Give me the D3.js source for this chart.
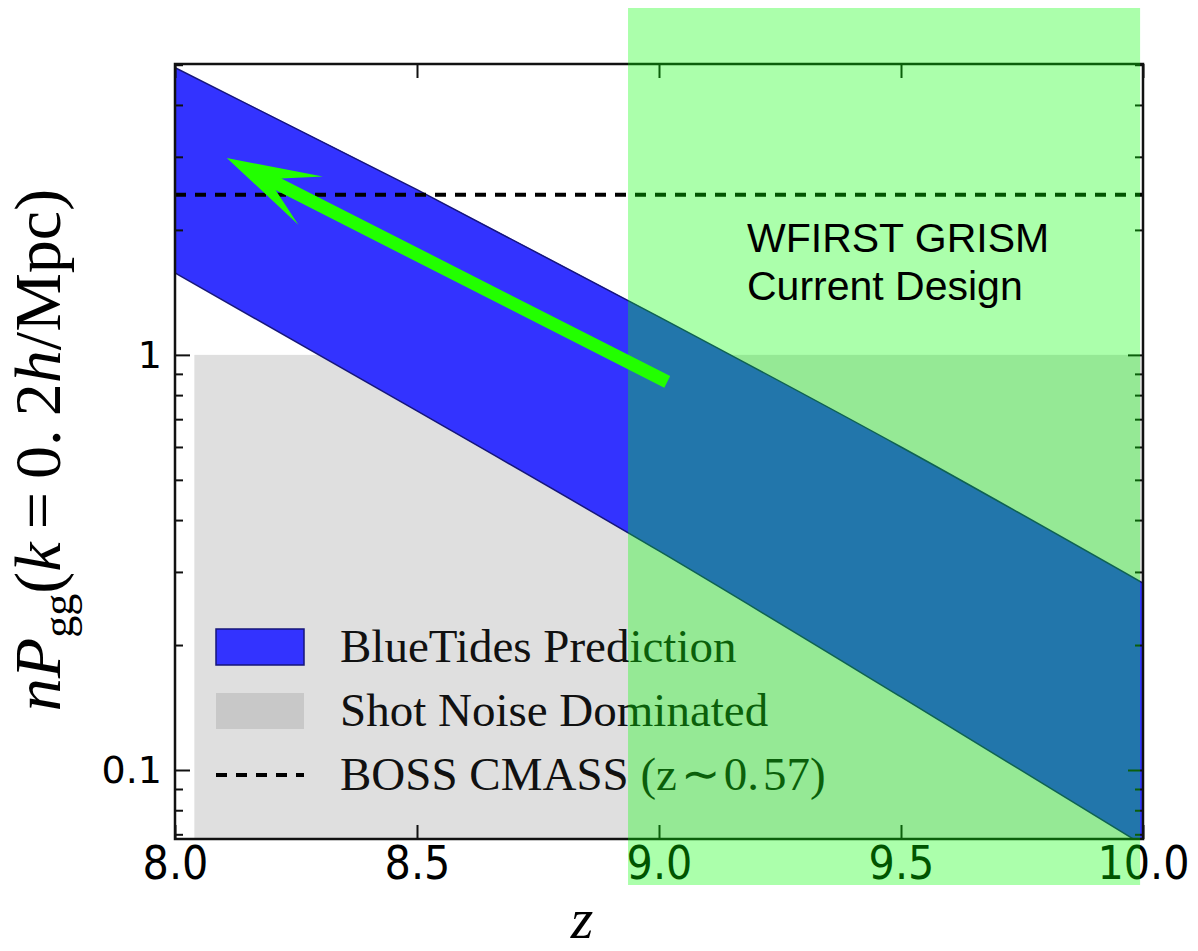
<!DOCTYPE html>
<html>
<head>
<meta charset="utf-8">
<script src="https://cdn.jsdelivr.net/npm/d3@7"></script>
<style>
  body { margin: 0; background: #fff; }
  svg { display: block; }
</style>
</head>
<body>
<svg id="chart" width="1198" height="951"></svg>
<script>
// values
var zTicks = [8.0, 8.5, 9.0, 9.5, 10.0];
var yMajor = [0.1, 1];
var yMinor = [0.07, 0.08, 0.09, 0.2, 0.3, 0.4, 0.5, 0.6, 0.7, 0.8, 0.9, 2, 3, 4, 5];
var bandZ = [8.0, 8.5, 9.0, 9.5, 10.0];
var bandUpper = [4.92, 2.50, 1.235, 0.600, 0.282];
var bandLower = [1.576, 0.733, 0.337, 0.150, 0.066];
var bossLevel = 2.43;
var shotNoiseTop = 1.0;
var shotNoiseZ = [8.04, 10.0];
var grismZ = [8.936, 9.994];
var arrowFrom = [9.017, 0.861];
var arrowTo = [8.107, 2.98];
var legendLabels = ["BlueTides Prediction", "Shot Noise Dominated", "BOSS CMASS (z\u200A\u223C\u200A0.\u200A57)"];

var mLeft = 175, mRight = 1143, mTop = 64, mBottom = 839;
var svg = d3.select("#chart");

var x = d3.scaleLinear().domain([8.0, 10.0]).range([mLeft, mRight]);
var y = d3.scaleLog().domain([0.0682, 5.02]).range([mBottom, mTop]);

svg.append("defs").append("clipPath").attr("id", "plotclip")
   .append("rect").attr("x", mLeft).attr("y", mTop)
   .attr("width", mRight - mLeft).attr("height", mBottom - mTop);

var plot = svg.append("g").attr("clip-path", "url(#plotclip)");

// shot noise region
plot.append("rect")
    .attr("x", x(shotNoiseZ[0]))
    .attr("y", y(shotNoiseTop))
    .attr("width", x(shotNoiseZ[1]) - x(shotNoiseZ[0]))
    .attr("height", mBottom - y(shotNoiseTop))
    .attr("fill", "#dfdfdf");

// BlueTides band
var band = bandZ.map(function(z, i){ return {z: z, lo: bandLower[i], hi: bandUpper[i]}; });
var area = d3.area()
    .curve(d3.curveMonotoneX)
    .x(function(d){ return x(d.z); })
    .y0(function(d){ return y(d.lo); })
    .y1(function(d){ return y(d.hi); });
plot.append("path")
    .datum(band)
    .attr("d", area)
    .attr("fill", "#3333ff")
    .attr("stroke", "#16167a")
    .attr("stroke-width", 1.5);

// BOSS line
plot.append("line")
    .attr("x1", mLeft).attr("x2", mRight)
    .attr("y1", y(bossLevel)).attr("y2", y(bossLevel))
    .attr("stroke", "#000")
    .attr("stroke-width", 4)
    .attr("stroke-dasharray", "11,9");

// axes, ticks inward
var tickFont = "'DejaVu Sans', sans-serif";
var xb = svg.append("g").attr("transform", "translate(0," + mBottom + ")")
    .call(d3.axisBottom(x).tickValues(zTicks).tickSize(-14).tickPadding(7)
      .tickFormat(d3.format(".1f")));
var xt = svg.append("g").attr("transform", "translate(0," + mTop + ")")
    .call(d3.axisTop(x).tickValues(zTicks).tickSize(-14).tickFormat(""));
var yl = svg.append("g").attr("transform", "translate(" + mLeft + ",0)")
    .call(d3.axisLeft(y).tickValues(yMajor).tickSize(-15).tickPadding(13)
      .tickFormat(function(d){ return d < 1 ? "0.1" : "1"; }));
var yr = svg.append("g").attr("transform", "translate(" + mRight + ",0)")
    .call(d3.axisRight(y).tickValues(yMajor).tickSize(-15).tickFormat(""));
var ylm = svg.append("g").attr("transform", "translate(" + mLeft + ",0)")
    .call(d3.axisLeft(y).tickValues(yMinor).tickSize(-8).tickFormat(""));
var yrm = svg.append("g").attr("transform", "translate(" + mRight + ",0)")
    .call(d3.axisRight(y).tickValues(yMinor).tickSize(-8).tickFormat(""));

svg.selectAll(".domain").remove();
svg.selectAll(".tick line").attr("stroke", "#111").attr("stroke-width", 2);
xb.selectAll("text").attr("font-family", "'DejaVu Sans Condensed', 'DejaVu Sans', sans-serif")
  .attr("font-size", 46).attr("fill", "#000");
yl.selectAll("text").attr("font-family", tickFont).attr("font-size", 38).attr("fill", "#000");

svg.append("rect")
   .attr("x", mLeft).attr("y", mTop)
   .attr("width", mRight - mLeft).attr("height", mBottom - mTop)
   .attr("fill", "none").attr("stroke", "#111").attr("stroke-width", 2.5);

// legend
var leg = svg.append("g");
var rowY = [647, 711, 775];
leg.append("rect").attr("x", 216).attr("y", rowY[0] - 18).attr("width", 88).attr("height", 36)
   .attr("fill", "#3333ff").attr("stroke", "#16167a").attr("stroke-width", 1.5);
leg.append("rect").attr("x", 216).attr("y", rowY[1] - 18).attr("width", 88).attr("height", 36)
   .attr("fill", "#c8c8c8");
leg.append("line").attr("x1", 216).attr("x2", 304).attr("y1", rowY[2]).attr("y2", rowY[2])
   .attr("stroke", "#000").attr("stroke-width", 4).attr("stroke-dasharray", "11,9");
leg.selectAll("text.lab")
   .data(legendLabels)
   .enter()
   .append("text")
   .attr("class", "lab")
   .attr("x", 340)
   .attr("y", function(d, i){ return rowY[i] + 15; })
   .attr("font-family", "'Liberation Serif', serif")
   .attr("font-size", 47)
   .attr("fill", "#111")
   .text(function(d){ return d; });

// GRISM window
svg.append("rect")
   .attr("x", x(grismZ[0]))
   .attr("y", 8)
   .attr("width", x(grismZ[1]) - x(grismZ[0]))
   .attr("height", 877)
   .attr("fill", "rgba(0,255,0,0.33)");

// arrow
var p0 = [x(arrowFrom[0]), y(arrowFrom[1])];
var p1 = [x(arrowTo[0]), y(arrowTo[1])];
var ddx = p1[0] - p0[0], ddy = p1[1] - p0[1], len = Math.sqrt(ddx*ddx + ddy*ddy);
var ux = ddx/len, uy = ddy/len, px = -uy, py = ux;
var headLen = 94, headHalf = 27, notch = 63, shaft = 6.5;
function pt(a, b){ return [p1[0] - ux*a + px*b, p1[1] - uy*a + py*b]; }
var arrowPts = [
  [p0[0] + px*shaft, p0[1] + py*shaft],
  pt(notch - 5, shaft),
  pt(headLen, headHalf),
  p1,
  pt(headLen, -headHalf),
  pt(notch - 5, -shaft),
  [p0[0] - px*shaft, p0[1] - py*shaft]
];
svg.append("path")
   .attr("d", "M" + arrowPts.map(function(p){ return p[0] + "," + p[1]; }).join("L") + "Z")
   .attr("fill", "#22ff00");

// annotation
var ann = svg.append("text")
   .attr("font-family", "'Liberation Sans', Arial, sans-serif")
   .attr("font-size", 41)
   .attr("fill", "#000");
ann.append("tspan").attr("x", 747).attr("y", 252).text("WFIRST GRISM");
ann.append("tspan").attr("x", 747).attr("y", 300).text("Current Design");

// axis titles
svg.append("text")
   .attr("x", 582).attr("y", 938)
   .attr("text-anchor", "middle")
   .attr("font-family", "'Liberation Serif', serif")
   .attr("font-style", "italic")
   .attr("font-size", 58)
   .text("z");

var yt = svg.append("text")
   .attr("transform", "translate(60,450) rotate(-90)")
   .attr("text-anchor", "middle")
   .attr("font-family", "'Liberation Serif', serif")
   .attr("font-size", 66)
   .attr("fill", "#000");
yt.append("tspan").attr("font-style", "italic").text("nP");
yt.append("tspan").attr("font-size", 44).attr("dy", 13).text("gg");
yt.append("tspan").attr("dy", -13).text("(");
yt.append("tspan").attr("font-style", "italic").text("k");
yt.append("tspan").text("\u2009=\u20090.\u20092");
yt.append("tspan").attr("font-style", "italic").text("h");
yt.append("tspan").text("/Mpc)");
</script>
</body>
</html>
